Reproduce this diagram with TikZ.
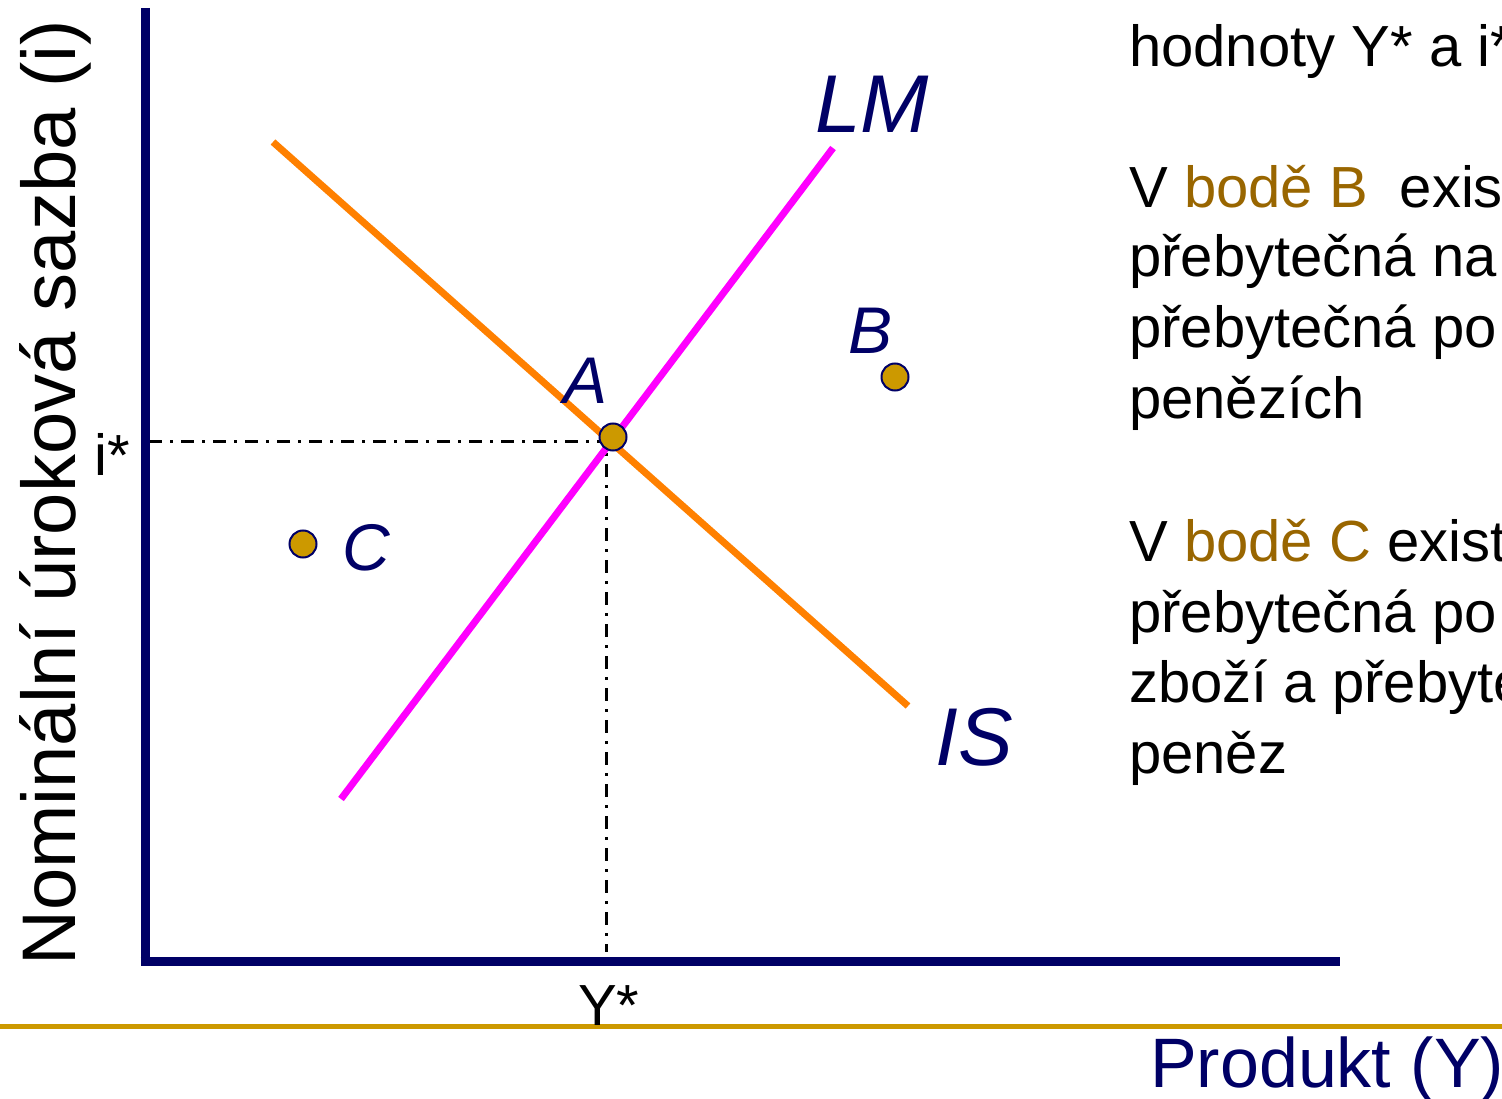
\documentclass[tikz,border=0pt]{standalone}
\usepackage{fontspec}
\setmainfont{Liberation Sans}
\definecolor{navy}{HTML}{000066}
\definecolor{isorange}{HTML}{FF8000}
\definecolor{lmmagenta}{HTML}{FF00FF}
\definecolor{gold}{HTML}{CC9900}
\definecolor{brown}{HTML}{996600}
\begin{document}
\begin{tikzpicture}[x=1pt,y=-1pt,
  axis/.style={navy,line width=9pt},
  curve/.style={line width=7pt},
  dashdot/.style={black,line width=3pt,dash pattern=on 13pt off 8pt on 3pt off 8pt},
  dot/.style={circle,fill=gold,draw=navy,line width=2pt,minimum size=27pt,inner sep=0pt},
  body/.style={anchor=base west,inner sep=0pt,font=\fontsize{58}{68}\selectfont},
  curvelabel/.style={anchor=base west,inner sep=0pt,text=navy,font=\fontsize{82}{90}\selectfont\itshape},
  ptlabel/.style={anchor=base west,inner sep=0pt,text=navy,font=\fontsize{66}{72}\selectfont\itshape},
  ticklabel/.style={inner sep=0pt,font=\fontsize{58}{68}\selectfont}]
\useasboundingbox (0,0) rectangle (1502,1099);
\clip (0,0) rectangle (1502,1099);
% coordinates
\coordinate (ytop) at (145,8);
\coordinate (orig) at (145,961);
\coordinate (xend) at (1340,961);
\coordinate (E) at (606,441);
\coordinate (Ei) at (149,441);
\coordinate (Ey) at (606,952);
\coordinate (is1) at (273,142);
\coordinate (is2) at (908,706);
\coordinate (lm1) at (341,799);
\coordinate (lm2) at (833,148);
\coordinate (g1) at (0,1026.5);
\coordinate (g2) at (1502,1026.5);
% gold rule
\draw[gold,line width=4.5pt] (g1) -- (g2);
% dashed guides
\draw[dashdot] (Ei) -- (E) -- (Ey);
% axes
\draw[axis] (ytop) -- ([yshift=-4.5pt]orig.center) ;
\draw[axis] ([xshift=-4.5pt]orig) -- (xend);
% curves
\draw[curve,isorange] (is1) -- (is2);
\draw[curve,lmmagenta] (lm1) -- (lm2);
% points
\node[dot] (A) at (613,437) {};
\node[dot] (B) at (895,377) {};
\node[dot] (C) at (303,544) {};
% labels
\node[curvelabel] (lLM) at (815,133) {LM};
\node[curvelabel] (lIS) at (935,765) {IS};
\node[ptlabel] (lA) at (563,403) {A};
\node[ptlabel] (lB) at (848,353) {B};
\node[ptlabel] (lC) at (342,570) {C};
\node[ticklabel,anchor=base east] (istar) at (130,475) {i*};
\node[ticklabel,anchor=base west] (ystar) at (578,1025) {Y*};
\node[anchor=base west,inner sep=0pt,text=navy,font=\fontsize{70}{80}\selectfont] (xlab) at (1150,1087) {Produkt (Y)};
\node[anchor=base west,inner sep=0pt,rotate=90,font=\fontsize{76}{80}\selectfont] (ylab) at (75,966) {Nominální úroková sazba (i)};
% right text
\node[body] (t1) at (1129,67) {hodnoty Y* a i*};
\node[body] (t2) at (1129,208) {V \textcolor{brown}{bodě B}\hspace{32pt}exis};
\node[body] (t3) at (1129,277) {přebytečná na};
\node[body] (t4) at (1129,348) {přebytečná po};
\node[body] (t5) at (1129,418) {penězích};
\node[body] (t6) at (1129,561) {V \textcolor{brown}{bodě C} exist};
\node[body] (t7) at (1129,632) {přebytečná po};
\node[body] (t8) at (1129,702) {zboží a přebyte};
\node[body] (t9) at (1129,773) {peněz};
\end{tikzpicture}
\end{document}
